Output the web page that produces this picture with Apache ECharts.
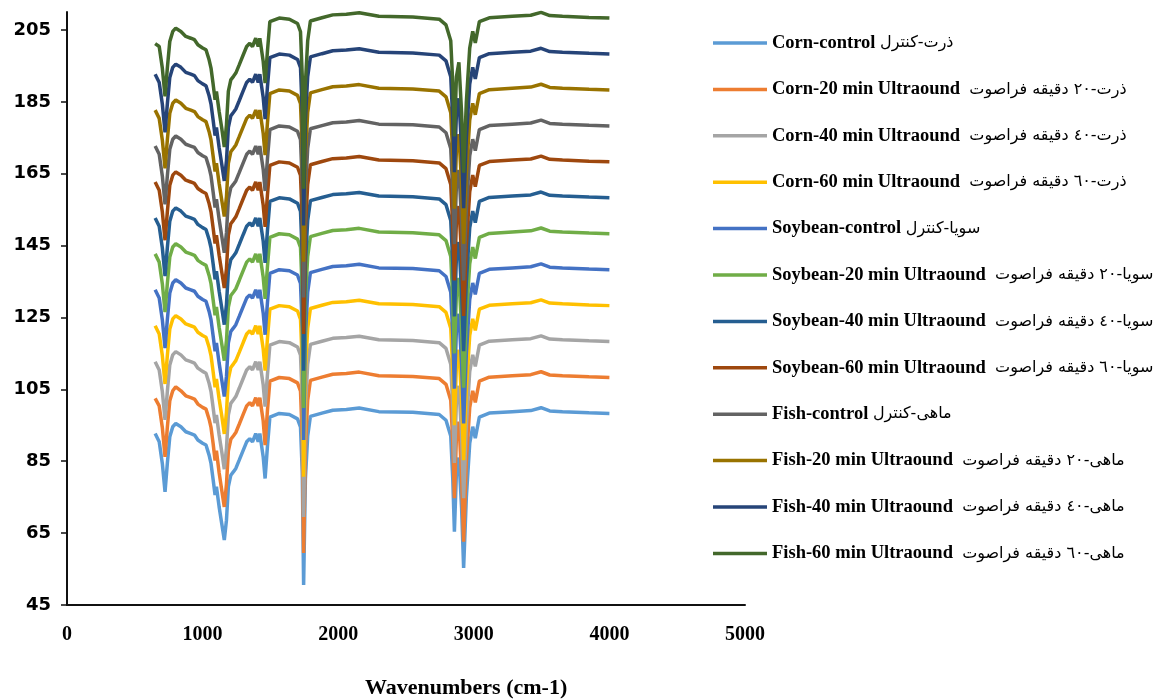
<!DOCTYPE html>
<html>
<head>
<meta charset="utf-8">
<script src="https://cdn.jsdelivr.net/npm/echarts@6/dist/echarts.min.js"></script>
<style>
  html, body { margin: 0; background: #fff; }
  #chart { width: 1161px; height: 700px; }
</style>
</head>
<body>
<div id="chart"></div>
<script>
// wavenumber (cm-1) sample points shared by all spectra
const wavenumbers = [
  650, 680, 703, 723, 740, 758, 780, 802, 840, 876,
  913, 940, 965, 1000, 1025, 1048, 1062, 1078, 1092, 1102,
  1122, 1141, 1160, 1176, 1190, 1208, 1228, 1245, 1270, 1300,
  1325, 1348, 1368, 1392, 1410, 1422, 1447, 1461, 1478, 1496,
  1565, 1640, 1700, 1722, 1735, 1745, 1758, 1775, 1795, 1880,
  1960, 2060, 2155, 2300, 2550, 2745, 2795, 2830, 2845, 2857,
  2872, 2890, 2910, 2925, 2945, 2970, 2992, 3011, 3041, 3114,
  3284, 3420, 3496, 3560, 3654, 3850, 4000
]

const cornControl = [
  92.7, 90.4, 84.4, 76.5, 84.4, 91.8, 94.6, 95.5, 94.6, 93.2,
  92.7, 92.3, 90.9, 90.0, 89.5, 86.7, 84.4, 79.8, 75.6, 77.9,
  72.3, 67.7, 63.1, 68.6, 77.9, 81.1, 82.1, 83.0, 85.3, 88.1,
  90.4, 91.3, 90.4, 92.7, 90.4, 92.7, 86.2, 80.2, 89.0, 97.3,
  98.3, 98.0, 96.8, 94.5, 82.0, 50.6, 80.0, 92.0, 97.5, 98.4,
  99.2, 99.4, 99.8, 98.8, 98.6, 98.0, 96.4, 92.0, 80.0, 65.4,
  82.0, 86.0, 72.0, 55.3, 75.0, 90.0, 94.6, 91.4, 97.3, 98.4,
  98.8, 99.1, 99.9, 99.0, 98.8, 98.5, 98.3
]
const corn20 = [
  102.5, 100.4, 94.4, 86.2, 94.4, 101.8, 104.6, 105.7, 104.6, 103.2,
  102.7, 102.3, 100.9, 100.0, 99.5, 96.7, 94.4, 89.8, 85.2, 87.9,
  81.8, 77.0, 72.3, 78.6, 87.9, 91.1, 92.1, 93.0, 95.3, 98.1,
  100.4, 101.3, 100.4, 102.7, 100.4, 102.7, 96.2, 89.5, 99.0, 107.3,
  108.3, 108.0, 106.8, 104.5, 91.5, 59.5, 88.5, 102.0, 107.5, 108.4,
  109.2, 109.4, 109.8, 108.8, 108.6, 108.0, 106.4, 102.0, 90.0, 74.7,
  92.0, 96.0, 81.0, 62.6, 85.0, 100.0, 104.6, 101.4, 107.3, 108.4,
  108.8, 109.1, 109.9, 109.0, 108.8, 108.5, 108.3
]
const corn40 = [
  112.7, 110.4, 104.4, 96.5, 104.4, 111.8, 114.6, 115.5, 114.6, 113.2,
  112.7, 112.3, 110.9, 110.0, 109.5, 106.7, 104.4, 99.8, 95.6, 97.9,
  92.3, 87.7, 82.8, 88.6, 97.9, 101.1, 102.1, 103.0, 105.3, 108.1,
  110.4, 111.3, 110.4, 112.7, 110.4, 112.7, 106.2, 100.2, 109.0, 117.3,
  118.3, 118.0, 116.8, 114.5, 102.0, 69.5, 100.0, 112.0, 117.5, 118.4,
  119.2, 119.4, 119.8, 118.8, 118.6, 118.0, 116.4, 112.0, 100.0, 84.5,
  102.0, 106.0, 92.0, 74.7, 95.0, 110.0, 114.6, 111.4, 117.3, 118.4,
  118.8, 119.1, 119.9, 119.0, 118.8, 118.5, 118.3
]
const corn60 = [
  122.7, 120.4, 114.4, 106.5, 114.4, 121.8, 124.6, 125.5, 124.6, 123.2,
  122.7, 122.3, 120.9, 120.0, 119.5, 116.7, 114.4, 109.8, 105.6, 107.9,
  102.3, 97.7, 92.6, 98.6, 107.9, 111.1, 112.1, 113.0, 115.3, 118.1,
  120.4, 121.3, 120.4, 122.7, 120.4, 122.7, 116.2, 110.2, 119.0, 127.3,
  128.3, 128.0, 126.8, 124.5, 112.0, 80.7, 110.0, 122.0, 127.5, 128.4,
  129.2, 129.4, 129.8, 128.8, 128.6, 128.0, 126.4, 122.0, 110.0, 95.0,
  112.0, 116.0, 102.0, 85.3, 105.0, 120.0, 124.6, 121.4, 127.3, 128.4,
  128.8, 129.1, 129.9, 129.0, 128.8, 128.5, 128.3
]
const soyControl = [
  132.7, 130.4, 124.4, 116.5, 124.4, 131.8, 134.6, 135.5, 134.6, 133.2,
  132.7, 132.3, 130.9, 130.0, 129.5, 126.7, 124.4, 119.8, 115.6, 117.9,
  112.3, 107.7, 103.0, 108.6, 117.9, 121.1, 122.1, 123.0, 125.3, 128.1,
  130.4, 131.3, 130.4, 132.7, 130.4, 132.7, 126.2, 120.2, 129.0, 137.3,
  138.3, 138.0, 136.8, 134.5, 122.0, 90.9, 120.0, 132.0, 137.5, 138.4,
  139.2, 139.4, 139.8, 138.8, 138.6, 138.0, 136.4, 132.0, 120.0, 105.2,
  122.0, 126.0, 112.0, 95.5, 115.0, 130.0, 134.6, 131.4, 137.3, 138.4,
  138.8, 139.1, 139.9, 139.0, 138.8, 138.5, 138.3
]
const soy20 = [
  142.7, 140.4, 134.4, 126.5, 134.4, 141.8, 144.6, 145.5, 144.6, 143.2,
  142.7, 142.3, 140.9, 140.0, 139.5, 136.7, 134.4, 129.8, 125.6, 127.9,
  122.3, 117.7, 113.0, 118.6, 127.9, 131.1, 132.1, 133.0, 135.3, 138.1,
  140.4, 141.3, 140.4, 142.7, 140.4, 142.7, 136.2, 130.2, 139.0, 147.3,
  148.3, 148.0, 146.8, 144.5, 132.0, 99.8, 130.0, 142.0, 147.5, 148.4,
  149.2, 149.4, 149.8, 148.8, 148.6, 148.0, 146.4, 142.0, 130.0, 115.0,
  132.0, 136.0, 122.0, 105.5, 125.0, 140.0, 144.6, 141.4, 147.3, 148.4,
  148.8, 149.1, 149.9, 149.0, 148.8, 148.5, 148.3
]
const soy40 = [
  152.7, 150.4, 144.4, 136.5, 144.4, 151.8, 154.6, 155.5, 154.6, 153.2,
  152.7, 152.3, 150.9, 150.0, 149.5, 146.7, 144.4, 139.8, 135.6, 137.9,
  132.3, 127.7, 123.0, 128.6, 137.9, 141.1, 142.1, 143.0, 145.3, 148.1,
  150.4, 151.3, 150.4, 152.7, 150.4, 152.7, 146.2, 140.2, 149.0, 157.3,
  158.3, 158.0, 156.8, 154.5, 142.0, 110.2, 140.0, 152.0, 157.5, 158.4,
  159.2, 159.4, 159.8, 158.8, 158.6, 158.0, 156.4, 152.0, 140.0, 125.3,
  142.0, 146.0, 132.0, 115.6, 135.0, 150.0, 154.6, 151.4, 157.3, 158.4,
  158.8, 159.1, 159.9, 159.0, 158.8, 158.5, 158.3
]
const soy60 = [
  162.7, 160.4, 154.4, 146.5, 154.4, 161.8, 164.6, 165.5, 164.6, 163.2,
  162.7, 162.3, 160.9, 160.0, 159.5, 156.7, 154.4, 149.8, 145.6, 147.9,
  142.3, 137.7, 133.2, 138.6, 147.9, 151.1, 152.1, 153.0, 155.3, 158.1,
  160.4, 161.3, 160.4, 162.7, 160.4, 162.7, 156.2, 150.2, 159.0, 167.3,
  168.3, 168.0, 166.8, 164.5, 152.0, 120.4, 150.0, 162.0, 167.5, 168.4,
  169.2, 169.4, 169.8, 168.8, 168.6, 168.0, 166.4, 162.0, 150.0, 135.3,
  152.0, 156.0, 142.0, 125.4, 145.0, 160.0, 164.6, 161.4, 167.3, 168.4,
  168.8, 169.1, 169.9, 169.0, 168.8, 168.5, 168.3
]
const fishControl = [
  172.7, 170.4, 164.4, 156.5, 164.4, 171.8, 174.6, 175.5, 174.6, 173.2,
  172.7, 172.3, 170.9, 170.0, 169.5, 166.7, 164.4, 159.8, 155.6, 157.9,
  152.3, 147.7, 143.0, 148.6, 157.9, 161.1, 162.1, 163.0, 165.3, 168.1,
  170.4, 171.3, 170.4, 172.7, 170.4, 172.7, 166.2, 160.2, 169.0, 177.3,
  178.3, 178.0, 176.8, 174.5, 162.0, 130.6, 160.0, 172.0, 177.5, 178.4,
  179.2, 179.4, 179.8, 178.8, 178.6, 178.0, 176.4, 172.0, 160.0, 145.4,
  162.0, 166.0, 152.0, 135.3, 155.0, 170.0, 174.6, 171.4, 177.3, 178.4,
  178.8, 179.1, 179.9, 179.0, 178.8, 178.5, 178.3
]
const fish20 = [
  182.7, 180.4, 174.4, 166.5, 174.4, 181.8, 184.6, 185.5, 184.6, 183.2,
  182.7, 182.3, 180.9, 180.0, 179.5, 176.7, 174.4, 169.8, 165.6, 167.9,
  162.3, 157.7, 153.1, 158.6, 167.9, 171.1, 172.1, 173.0, 175.3, 178.1,
  180.4, 181.3, 180.4, 182.7, 180.4, 182.7, 176.2, 170.2, 179.0, 187.3,
  188.3, 188.0, 186.8, 184.5, 172.0, 140.5, 170.0, 182.0, 187.5, 188.4,
  189.2, 189.4, 189.8, 188.8, 188.6, 188.0, 186.4, 182.0, 170.0, 155.3,
  172.0, 176.0, 162.0, 145.5, 165.0, 180.0, 184.6, 181.4, 187.3, 188.4,
  188.8, 189.1, 189.9, 189.0, 188.8, 188.5, 188.3
]
const fish40 = [
  192.7, 190.4, 184.4, 176.5, 184.4, 191.8, 194.6, 195.5, 194.6, 193.2,
  192.7, 192.3, 190.9, 190.0, 189.5, 186.7, 184.4, 179.8, 175.6, 177.9,
  172.3, 167.7, 163.0, 168.6, 177.9, 181.1, 182.1, 183.0, 185.3, 188.1,
  190.4, 191.3, 190.4, 192.7, 190.4, 192.7, 186.2, 180.2, 189.0, 197.3,
  198.3, 198.0, 196.8, 194.5, 182.0, 150.6, 180.0, 192.0, 197.5, 198.4,
  199.2, 199.4, 199.8, 198.8, 198.6, 198.0, 196.4, 192.0, 180.0, 165.4,
  182.0, 186.0, 172.0, 155.4, 175.0, 190.0, 194.6, 191.4, 197.3, 198.4,
  198.8, 199.1, 199.9, 199.0, 198.8, 198.5, 198.3
]
const fish60 = [
  201.2, 200.4, 194.4, 186.5, 194.4, 201.8, 204.6, 205.5, 204.6, 203.2,
  202.7, 202.3, 200.9, 200.0, 199.5, 196.7, 194.4, 189.8, 185.6, 187.9,
  182.3, 177.7, 172.4, 178.6, 187.9, 191.1, 192.1, 193.0, 195.3, 198.1,
  200.4, 201.3, 200.4, 202.7, 200.4, 202.7, 196.2, 190.2, 199.0, 207.3,
  208.3, 208.0, 206.8, 204.5, 192.0, 160.8, 190.0, 202.0, 207.5, 208.4,
  209.2, 209.4, 209.8, 208.8, 208.6, 208.0, 206.4, 202.0, 190.0, 175.4,
  192.0, 196.0, 182.0, 165.3, 185.0, 200.0, 204.6, 201.4, 207.3, 208.4,
  208.8, 209.1, 209.9, 209.0, 208.8, 208.5, 208.3
]

const seriesNames = [
  'Corn-control', 'Corn-20 min Ultraound', 'Corn-40 min Ultraound', 'Corn-60 min Ultraound',
  'Soybean-control', 'Soybean-20 min Ultraound', 'Soybean-40 min Ultraound', 'Soybean-60 min Ultraound',
  'Fish-control', 'Fish-20 min Ultraound', 'Fish-40 min Ultraound', 'Fish-60 min Ultraound'
]
const seriesNamesFa = [
  'ذرت-کنترل', 'ذرت-٢٠ دقیقه فراصوت', 'ذرت-٤٠ دقیقه فراصوت', 'ذرت-٦٠ دقیقه فراصوت',
  'سویا-کنترل', 'سویا-٢٠ دقیقه فراصوت', 'سویا-٤٠ دقیقه فراصوت', 'سویا-٦٠ دقیقه فراصوت',
  'ماهی-کنترل', 'ماهی-٢٠ دقیقه فراصوت', 'ماهی-٤٠ دقیقه فراصوت', 'ماهی-٦٠ دقیقه فراصوت'
]
const seriesValues = [
  cornControl, corn20, corn40, corn60,
  soyControl, soy20, soy40, soy60,
  fishControl, fish20, fish40, fish60
]
const colors = [
  '#5B9BD5', '#ED7D31', '#A5A5A5', '#FFC000',
  '#4472C4', '#70AD47', '#255E91', '#9E480E',
  '#636363', '#997300', '#264478', '#43682B'
]
const yTicks = [45, 65, 85, 105, 125, 145, 165, 185, 205]

const chart = echarts.init(document.getElementById('chart'))

const series = seriesNames.map((name, i) => ({
  name: name,
  type: 'line',
  symbol: 'none',
  data: wavenumbers.map((w, k) => [w, seriesValues[i][k]]),
  lineStyle: { width: 3.5, color: colors[i] },
  itemStyle: { color: colors[i] }
}))

const option = {
  animation: false,
  color: colors,
  grid: { left: 67, right: 416, top: 12, bottom: 95 },
  xAxis: {
    type: 'value',
    min: 0,
    max: 5000,
    interval: 1000,
    axisLine: { lineStyle: { color: '#111', width: 2 } },
    axisTick: { show: false },
    splitLine: { show: false },
    axisLabel: {
      margin: 20,
      color: '#000',
      fontFamily: 'Liberation Serif',
      fontWeight: 'bold',
      fontSize: 20,
      formatter: v => String(v)
    }
  },
  yAxis: {
    type: 'value',
    min: 45,
    max: 210,
    axisLine: { show: true, lineStyle: { color: '#111', width: 2 } },
    axisTick: { show: true, length: 6, customValues: yTicks, lineStyle: { color: '#111', width: 1.5 } },
    splitLine: { show: false },
    axisLabel: {
      customValues: yTicks,
      margin: 16,
      color: '#000',
      fontFamily: 'DejaVu Sans',
      fontWeight: 'bold',
      fontSize: 18
    }
  },
  legend: {
    orient: 'vertical',
    left: 708,
    top: 28.5,
    icon: 'rect',
    itemWidth: 54,
    itemHeight: 3.5,
    itemGap: 27.4,
    data: seriesNames,
    formatter: name => {
      const i = seriesNames.indexOf(name)
      const gap = name.indexOf('control') >= 0 ? ' ' : '  '
      return '{en|' + name + gap + '}{fa|' + seriesNamesFa[i] + '}'
    },
    textStyle: {
      rich: {
        en: { fontFamily: 'Liberation Serif', fontWeight: 'bold', fontSize: 18.5, color: '#000', lineHeight: 18 },
        fa: { fontFamily: 'DejaVu Sans', fontSize: 16, color: '#000', lineHeight: 18 }
      }
    }
  },
  graphic: [{
    type: 'text',
    left: 365,
    top: 677,
    style: {
      text: 'Wavenumbers (cm-1)',
      font: 'bold 22px "Liberation Serif"',
      fill: '#000'
    }
  }],
  series: series
}

chart.setOption(option)
</script>
</body>
</html>
